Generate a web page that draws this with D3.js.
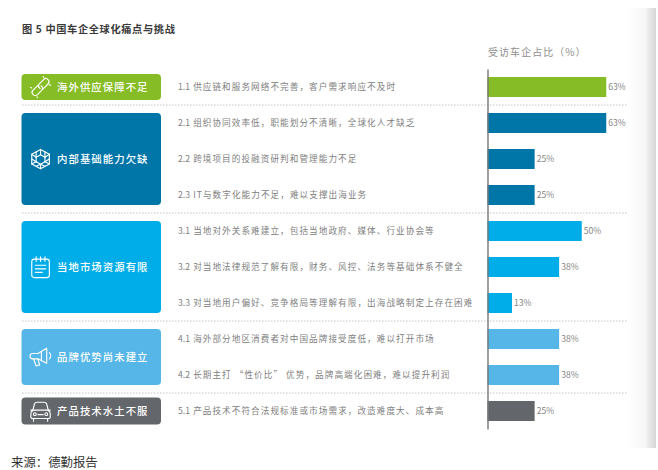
<!DOCTYPE html>
<html lang="zh">
<head>
<meta charset="utf-8">
<script src="https://cdn.jsdelivr.net/npm/d3@7"></script>
<style>
  html, body { margin: 0; padding: 0; background: #fff; }
  svg { display: block; }
  text { font-family: "Noto Sans CJK SC", "Noto Sans", sans-serif; }
</style>
</head>
<body>
<div id="chart"></div>
<script>
// Challenge groups
const groupNames = ["海外供应保障不足", "内部基础能力欠缺", "当地市场资源有限", "品牌优势尚未建立", "产品技术水土不服"];
const groupSizes = [1, 3, 3, 2, 1];
const groupColors = ["#86BC25", "#0076A8", "#00ADE8", "#56B6E8", "#63666A"];
const groupPad = [3, 0, 0, 0, 3.5];
const groupIcons = ["link", "hex", "note", "horn", "car"];

// Individual pain points and the share of surveyed carmakers naming each
const itemLabels = [
  "1.1 供应链和服务网络不完善，客户需求响应不及时",
  "2.1 组织协同效率低，职能划分不清晰，全球化人才缺乏",
  "2.2 跨境项目的投融资研判和管理能力不足",
  "2.3 IT与数字化能力不足，难以支撑出海业务",
  "3.1 当地对外关系难建立，包括当地政府、媒体、行业协会等",
  "3.2 对当地法律规范了解有限，财务、风控、法务等基础体系不健全",
  "3.3 对当地用户偏好、竞争格局等理解有限，出海战略制定上存在困难",
  "4.1 海外部分地区消费者对中国品牌接受度低，难以打开市场",
  "4.2 长期主打 “性价比” 优势，品牌高端化困难，难以提升利润",
  "5.1 产品技术不符合法规标准或市场需求，改造难度大、成本高"
];
const itemValues = [63, 63, 25, 25, 50, 38, 13, 38, 38, 25];

const titleText = "图 5 中国车企全球化痛点与挑战";
const axisTitle = "受访车企占比（%）";
const sourceText = "来源：德勤报告";

const width = 658, height = 470;
const svg = d3.select("#chart").append("svg").attr("width", width).attr("height", height);

// Soft page-edge shading on the right
const grad = svg.append("defs").append("linearGradient").attr("id", "edge");
grad.append("stop").attr("offset", "0%").attr("stop-color", "#fff");
grad.append("stop").attr("offset", "60%").attr("stop-color", "#f6f6f6");
grad.append("stop").attr("offset", "100%").attr("stop-color", "#d6d6d6");
svg.append("rect").attr("x", 628).attr("y", 8).attr("width", 28).attr("height", 440).attr("fill", "url(#edge)");

const x = d3.scaleLinear().domain([0, 100]).range([487.5, 676]);
const y = d3.scaleBand().domain(d3.range(itemValues.length)).range([69, 429])
  .paddingInner(16 / 36).paddingOuter(8 / 36);

// Map each row to its group
const rowGroup = groupSizes.flatMap((n, g) => d3.range(n).map(() => g));
let start = 0;
const groups = groupNames.map((name, g) => {
  const first = start, last = start + groupSizes[g] - 1;
  start = last + 1;
  return { name, color: groupColors[g], pad: groupPad[g], icon: groupIcons[g], first, last };
});

svg.append("text").attr("x", 22).attr("y", 33).attr("font-size", 10.2).attr("font-weight", 700)
  .attr("fill", "#3a3a3a").attr("letter-spacing", 0.65).text(titleText);
svg.append("text").attr("x", 488).attr("y", 56).attr("font-size", 10).attr("fill", "#8f8f8f")
  .attr("letter-spacing", 1.05).text(axisTitle);
svg.append("text").attr("x", 11).attr("y", 466.5).attr("font-size", 12.4).attr("fill", "#333").text(sourceText);

// Dotted separators between groups
svg.append("g").selectAll("line").data(groups.slice(1)).join("line")
  .attr("x1", 22).attr("x2", 627)
  .attr("y1", d => (y(d.first - 1) + y.bandwidth() + y(d.first)) / 2)
  .attr("y2", d => (y(d.first - 1) + y.bandwidth() + y(d.first)) / 2)
  .attr("stroke", "#c4c4c4").attr("stroke-width", 1).attr("stroke-dasharray", "1.5 1.5");

// Icon outlines in a local 24x24 box
const iconPaths = {
  link: ["M9 10 L3.5 15.5 A3.5 3.5 0 0 0 8.5 20.5 L14 15 A3.5 3.5 0 0 0 12.5 10.5", "M15 14 L20.5 8.5 A3.5 3.5 0 0 0 15.5 3.5 L10 9 A3.5 3.5 0 0 0 11.5 13.5", "M15 0 L15.5 1 M22 9.5 L23.5 10 M2 13 L0.5 12.5 M8 23 L8.5 24"],
  hex: ["M12 1 L22 6.5 L22 17.5 L12 23 L2 17.5 L2 6.5 Z", "M12 7 L17 10 L17 15 L12 18 L7 15 L7 10 Z", "M12 1 L12 7 M2 6.5 L7 10 M22 6.5 L17 10 M2 17.5 L7 15 M22 17.5 L17 15 M12 23 L12 18", "M7 3.8 L7 10 M17 3.8 L17 10 M2 12 L7 15 M22 12 L17 15 M7 20.2 L12 18 M17 20.2 L12 18"],
  note: ["M5 3 L19 3 C21 3 22 4 22 6 L22 21 C22 23 21 24 19 24 L5 24 C3 24 2 23 2 21 L2 6 C2 4 3 3 5 3 Z", "M7 0.5 L7 5.5 M12 0.5 L12 5.5 M17 0.5 L17 5.5", "M6 10 L18 10 M6 14 L18 14 M6 18 L14 18"],
  horn: ["M9 8 L19 2 L19 19 L9 14 L3 14 C1 14 0 12.5 0 11 C0 9.5 1 8 3 8 Z", "M4 14 L7 22 L11 21 L9 14", "M22 7 C24 9 24 12 22 14", "M13 6 L13 16"],
  car: ["M3 12 L5 4 C5.5 2.5 6.5 2 8 2 L16 2 C17.5 2 18.5 2.5 19 4 L21 12", "M3 11 C1.5 12 1 13 1 15 L1 19 C1 20 2 20.5 3 20.5 L21 20.5 C22 20.5 23 20 23 19 L23 15 C23 13 22.5 12 21 11 Z", "M1 11 L3 11 M21 11 L23 11 M4 20.5 L4 23.5 M20 20.5 L20 23.5", "M9 16 L15 16"]
};
const iconDots = { car: [[5.5, 15.5], [18.5, 15.5]] };

// Group boxes with icon and name
const box = svg.append("g").selectAll("g").data(groups).join("g");
box.append("rect")
  .attr("x", 21.5).attr("width", 139.5).attr("rx", 4)
  .attr("y", d => y(d.first) - d.pad)
  .attr("height", d => y(d.last) + y.bandwidth() - y(d.first) + 2 * d.pad)
  .attr("fill", d => d.color);
const boxMid = d => (y(d.first) + y(d.last) + y.bandwidth()) / 2;
box.append("text").attr("x", 57).attr("y", boxMid).attr("dy", "0.36em")
  .attr("font-size", 10.4).attr("font-weight", 500).attr("fill", "#fff").attr("letter-spacing", 1.05)
  .text(d => d.name);
const icon = box.append("g")
  .attr("transform", d => `translate(30,${boxMid(d) - 10.5}) scale(0.88)`)
  .attr("fill", "none").attr("stroke", "#fff").attr("stroke-width", 1.3)
  .attr("stroke-linecap", "round").attr("stroke-linejoin", "round");
icon.each(function (d) {
  const g = d3.select(this);
  g.selectAll("path").data(iconPaths[d.icon]).join("path").attr("d", p => p);
  g.selectAll("circle").data(iconDots[d.icon] || []).join("circle")
    .attr("cx", c => c[0]).attr("cy", c => c[1]).attr("r", 1.6);
});

// Row labels: the numbering is set tighter than the sentence that follows it
const rowText = svg.append("g").selectAll("text").data(itemLabels).join("text")
  .attr("x", 178).attr("y", (d, i) => y(i) + y.bandwidth() / 2).attr("dy", "0.36em")
  .attr("font-size", 8.6).attr("fill", "#808080");
rowText.append("tspan").attr("letter-spacing", 0).text(d => d.slice(0, 3));
rowText.append("tspan").attr("dx", 3.2).attr("letter-spacing", 1.07).text(d => d.slice(4));

// Bars and value labels
svg.append("g").selectAll("rect").data(itemValues).join("rect")
  .attr("x", x(0)).attr("y", (d, i) => y(i))
  .attr("width", d => x(d) - x(0)).attr("height", y.bandwidth())
  .attr("fill", (d, i) => groupColors[rowGroup[i]]);
svg.append("g").selectAll("text").data(itemValues).join("text")
  .attr("x", d => x(d) + 2).attr("y", (d, i) => y(i) + y.bandwidth() / 2).attr("dy", "0.36em")
  .attr("font-size", 8.6).attr("fill", "#858585")
  .text(d => d + "%");

// Vertical baseline
const axis = d3.axisLeft(y).tickSize(0).tickSizeOuter(0).tickFormat("");
const axisG = svg.append("g").attr("transform", `translate(${x(0)},0)`).call(axis);
axisG.select(".domain").attr("stroke", "#777").attr("stroke-width", 1.4);
</script>
</body>
</html>
